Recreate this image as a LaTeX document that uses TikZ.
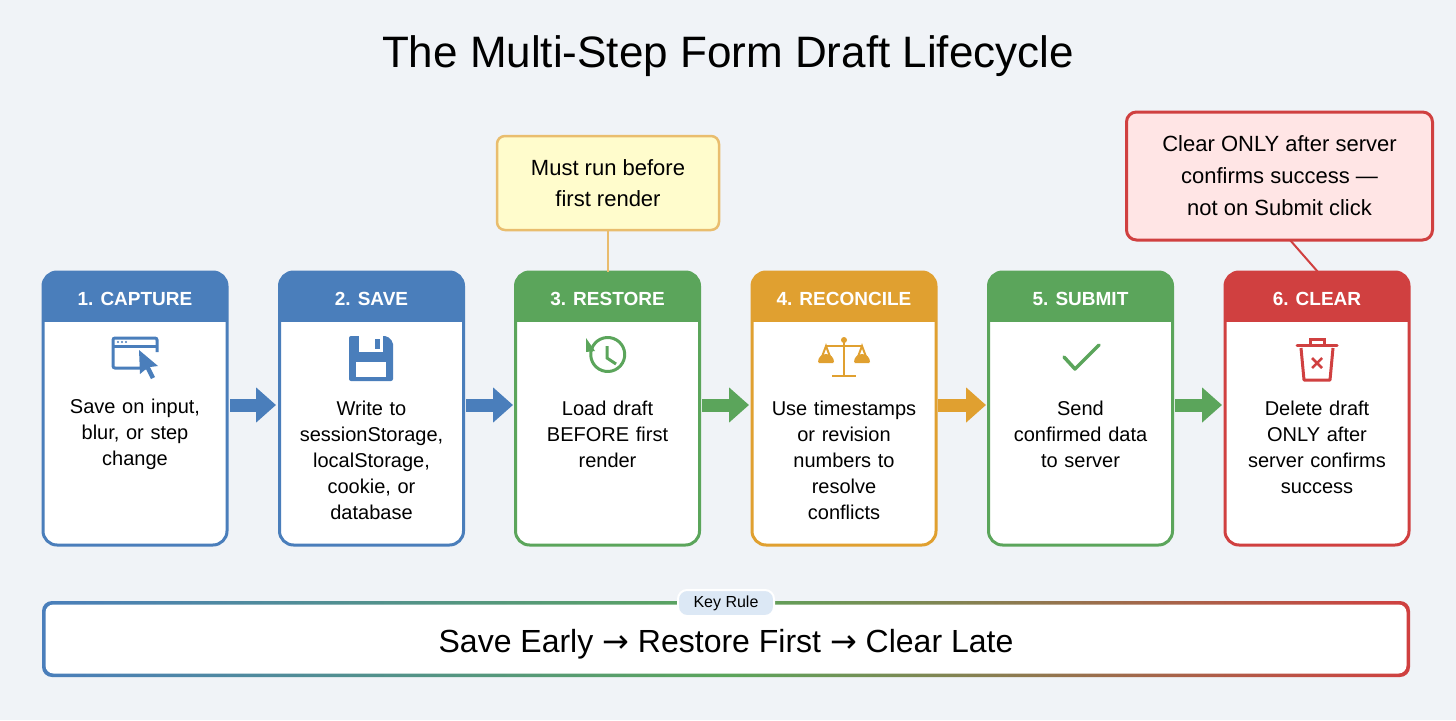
\documentclass[tikz,border=0pt]{standalone}
\usepackage{fontspec}
\setmainfont{Liberation Sans}
\newfontfamily\dejavu{DejaVu Sans}
\usetikzlibrary{arrows.meta}
\definecolor{cb}{HTML}{4A7EBB}
\definecolor{cg}{HTML}{5BA55B}
\definecolor{co}{HTML}{E0A030}
\definecolor{cr}{HTML}{D04040}
\definecolor{bg}{HTML}{F0F3F7}
\definecolor{pill}{HTML}{DCE8F5}
\begin{document}
\begin{tikzpicture}[x=1pt,y=-1pt,
  card/.style={draw=#1,line width=3pt,fill=white,rounded corners=14pt},
  body/.style={align=center,font=\fontsize{20}{26}\selectfont,text width=180pt},
  head/.style={font=\bfseries\fontsize{19}{22}\selectfont,text=white},
  flow/.style={-{Triangle[length=20pt,width=34pt]},line width=13pt,#1},
  icon/.style={line width=3pt,#1}]
\fill[bg] (0,0) rectangle (1456,720);
\useasboundingbox (0,0) rectangle (1456,720);
\node (title) at (728,56) {\fontsize{44}{52}\selectfont The Multi-Step Form Draft Lifecycle};
% callouts
\node[draw=co!70,fill=yellow!20,line width=2.5pt,rounded corners=8pt,minimum width=222pt,minimum height=94pt,align=center,font=\fontsize{22}{31}\selectfont] (note1) at (608,183) {Must run before\\first render};
\node[draw=cr,fill=red!10,line width=3pt,rounded corners=10pt,minimum width=306pt,minimum height=128pt,align=center,font=\fontsize{22}{32}\selectfont] (note2) at (1279.5,176) {Clear ONLY after server\\confirms success —\\not on Submit click};
% cards
\foreach \n/\x/\c/\h in {c1/135/cb/1. CAPTURE,c2/371.5/cb/2. SAVE,c3/607.5/cg/3. RESTORE,c4/844/co/4. RECONCILE,c5/1080.5/cg/5. SUBMIT,c6/1317/cr/6. CLEAR}{
  \begin{scope}
  \draw[card=\c] (\x-92,272) rectangle (\x+92,545);
  \clip[rounded corners=14pt] (\x-92,272) rectangle (\x+92,545);
  \fill[\c] (\x-93,271) rectangle (\x+93,322);
  \end{scope}
  \node[head] (\n h) at (\x,299) {\h};
  \coordinate (\n) at (\x,408);
}
\draw[co!70,line width=2pt] (note1.south) -- (608,272);
\draw[cr,line width=2pt] (1290,240) -- (1318,272);
% bodies
\node[body] (t1) at (135,434) {Save on input,\\blur, or step\\change};
\node[body] (t2) at (371.5,460) {Write to\\sessionStorage,\\localStorage,\\cookie, or\\database};
\node[body] (t3) at (607.5,434) {Load draft\\BEFORE first\\render};
\node[body] (t4) at (844,460) {Use timestamps\\or revision\\numbers to\\resolve\\conflicts};
\node[body] (t5) at (1080.5,434) {Send\\confirmed data\\to server};
\node[body] (t6) at (1317,447) {Delete draft\\ONLY after\\server confirms\\success};
% arrows
\draw[flow=cb] (230,405) -- (276,405);
\draw[flow=cb] (466,405) -- (513,405);
\draw[flow=cg] (702,405) -- (749,405);
\draw[flow=co] (938,405) -- (986,405);
\draw[flow=cg] (1175,405) -- (1222,405);
% icons
\draw[icon=cb,rounded corners=2pt] (146,368) -- (113,368) -- (113,338) -- (157,338) -- (157,352);
\draw[cb,line width=3pt] (113,346) -- (157,346);
\fill[cb] (118,342) circle (1.2) (122,342) circle (1.2) (126,342) circle (1.2);
\fill[cb] (139,350) -- (158,366) -- (150,367) -- (155,377) -- (151,379) -- (146,369) -- (140,374) -- cycle;
% floppy
\fill[cb,rounded corners=2pt] (349,336) -- (387,336) -- (393,342) -- (393,381) -- (349,381) -- cycle;
\fill[white] (359,336) rectangle (383,352);
\fill[cb] (375,339) rectangle (380,349);
\fill[white] (356,362) rectangle (386,377);
% history
\draw[icon=cg] (593,346) arc[start angle=210,end angle=-150,radius=17];
\draw[icon=cg] (607,346) -- (607,358) -- (616,364);
\fill[cg] (586,338) -- (595,351) -- (586,352) -- cycle;
% balance
\draw[icon=co,line width=2.5pt] (844,338) -- (844,376) (832,376) -- (856,376) (826,346) -- (862,346);
\fill[co] (844,340) circle (3);
\draw[co,line width=2pt] (826,346) -- (820,362) -- (832,362) -- cycle (862,346) -- (856,362) -- (868,362) -- cycle;
\fill[co] (818,362) arc[start angle=180,end angle=360,radius=8] -- cycle;
\fill[co] (854,362) arc[start angle=180,end angle=360,radius=8] -- cycle;
% check
\draw[icon=cg,line width=3.5pt,line cap=round,line join=round] (1064,357) -- (1075,369) -- (1099,345);
% trash
\draw[icon=cr,line join=round] (1301,348) -- (1304,380) -- (1330,380) -- (1333,348);
\draw[icon=cr,line cap=round] (1297,345) -- (1337,345);
\draw[icon=cr] (1310,345) -- (1310,339) -- (1324,339) -- (1324,345);
\draw[icon=cr,line width=2.5pt] (1312,358) -- (1322,368) (1322,358) -- (1312,368);
% bottom bar
\shade[left color=cb,right color=cr,middle color=cg,rounded corners=10pt] (42,601) rectangle (1410,677);
\fill[white,rounded corners=8pt] (45.5,604.5) rectangle (1406.5,673.5);
\node[font=\fontsize{32}{38}\selectfont] (rule) at (726,644) {Save Early {\dejavu →} Restore First {\dejavu →} Clear Late};
\node[fill=pill,draw=white,line width=2pt,rounded corners=9pt,minimum width=96pt,minimum height=26pt,font=\fontsize{16}{18}\selectfont] (key) at (726,603) {Key Rule};
\end{tikzpicture}
\end{document}
